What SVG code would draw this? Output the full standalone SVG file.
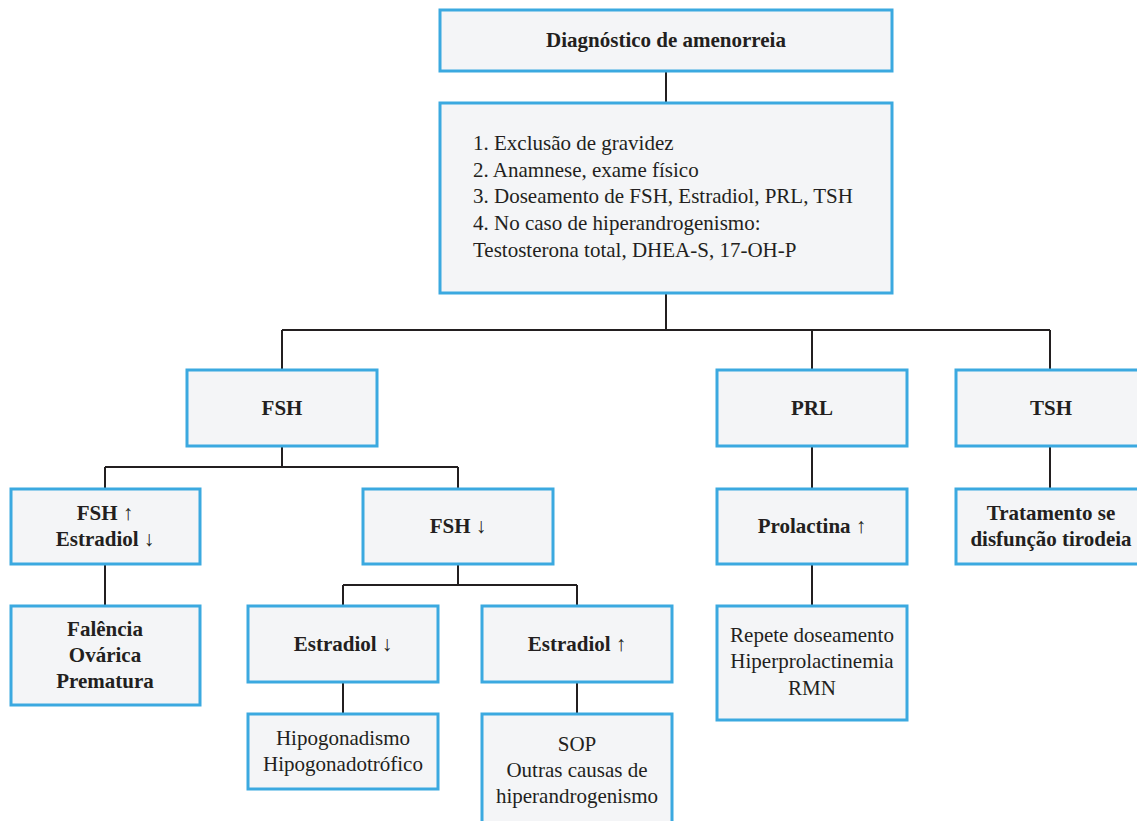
<svg xmlns="http://www.w3.org/2000/svg" width="1137" height="821" viewBox="0 0 1137 821">
  <style>
    .box { fill: #F4F5F7; stroke: #3BA9E0; stroke-width: 3; }
    .link { fill: none; stroke: #231F20; stroke-width: 2; }
    .b { font-weight: bold; }
    .c { text-anchor: middle; }
  </style>
  <rect width="1137" height="821" fill="#FFFFFF"/>

  <!-- connectors -->
  <g id="connectors" class="link">
    <path d="M666 71 V103"/>
    <path d="M666 293 V330 M282 330 H1050 M282 330 V370 M812 330 V370 M1050 330 V370"/>
    <path d="M282 446 V467 M105 467 H458 M105 467 V489 M458 467 V489"/>
    <path d="M105 564 V606"/>
    <path d="M458 564 V585 M343 585 H577 M343 585 V606 M577 585 V606"/>
    <path d="M343 682 V714 M577 682 V714"/>
    <path d="M812 446 V489 M812 564 V606"/>
    <path d="M1050 446 V489"/>
  </g>

  <g id="nodes" font-family="Liberation Serif, Times New Roman, serif" font-size="21" fill="#231F20">
    <g id="diagnostico">
      <rect class="box" x="440" y="10" width="452" height="61"/>
      <text class="b c" x="666" y="47">Diagnóstico de amenorreia</text>
    </g>

    <g id="passos">
      <rect class="box" x="440" y="103" width="452" height="190"/>
      <text x="473" y="150">1. Exclusão de gravidez</text>
      <text x="473" y="177">2. Anamnese, exame físico</text>
      <text x="473" y="203">3. Doseamento de FSH, Estradiol, PRL, TSH</text>
      <text x="473" y="230">4. No caso de hiperandrogenismo:</text>
      <text x="473" y="257">Testosterona total, DHEA-S, 17-OH-P</text>
    </g>

    <g id="fsh">
      <rect class="box" x="187" y="370" width="190" height="76"/>
      <text class="b c" x="282" y="415">FSH</text>
    </g>

    <g id="prl">
      <rect class="box" x="717" y="370" width="190" height="76"/>
      <text class="b c" x="812" y="415">PRL</text>
    </g>

    <g id="tsh">
      <rect class="box" x="956" y="370" width="190" height="76"/>
      <text class="b c" x="1051" y="415">TSH</text>
    </g>

    <g id="fsh-alta">
      <rect class="box" x="11" y="489" width="189" height="75"/>
      <text class="b c" x="105" y="520">FSH ↑</text>
      <text class="b c" x="105" y="546">Estradiol ↓</text>
    </g>

    <g id="fsh-baixa">
      <rect class="box" x="363" y="489" width="190" height="75"/>
      <text class="b c" x="458" y="533">FSH ↓</text>
    </g>

    <g id="prolactina">
      <rect class="box" x="717" y="489" width="190" height="75"/>
      <text class="b c" x="812" y="533">Prolactina ↑</text>
    </g>

    <g id="tratamento">
      <rect class="box" x="956" y="489" width="190" height="75"/>
      <text class="b c" x="1051" y="520">Tratamento se</text>
      <text class="b c" x="1051" y="546">disfunção tirodeia</text>
    </g>

    <g id="falencia">
      <rect class="box" x="11" y="606" width="189" height="99"/>
      <text class="b c" x="105" y="636">Falência</text>
      <text class="b c" x="105" y="662">Ovárica</text>
      <text class="b c" x="105" y="688">Prematura</text>
    </g>

    <g id="estradiol-baixo">
      <rect class="box" x="248" y="606" width="190" height="76"/>
      <text class="b c" x="343" y="651">Estradiol ↓</text>
    </g>

    <g id="estradiol-alto">
      <rect class="box" x="482" y="606" width="190" height="76"/>
      <text class="b c" x="577" y="651">Estradiol ↑</text>
    </g>

    <g id="hipogonadismo">
      <rect class="box" x="248" y="714" width="190" height="75"/>
      <text class="c" x="343" y="745">Hipogonadismo</text>
      <text class="c" x="343" y="771">Hipogonadotrófico</text>
    </g>

    <g id="sop">
      <rect class="box" x="482" y="714" width="190" height="120"/>
      <text class="c" x="577" y="751">SOP</text>
      <text class="c" x="577" y="777">Outras causas de</text>
      <text class="c" x="577" y="803">hiperandrogenismo</text>
    </g>

    <g id="repete">
      <rect class="box" x="717" y="606" width="190" height="114"/>
      <text class="c" x="812" y="642">Repete doseamento</text>
      <text class="c" x="812" y="668">Hiperprolactinemia</text>
      <text class="c" x="812" y="695">RMN</text>
    </g>
  </g>
</svg>
